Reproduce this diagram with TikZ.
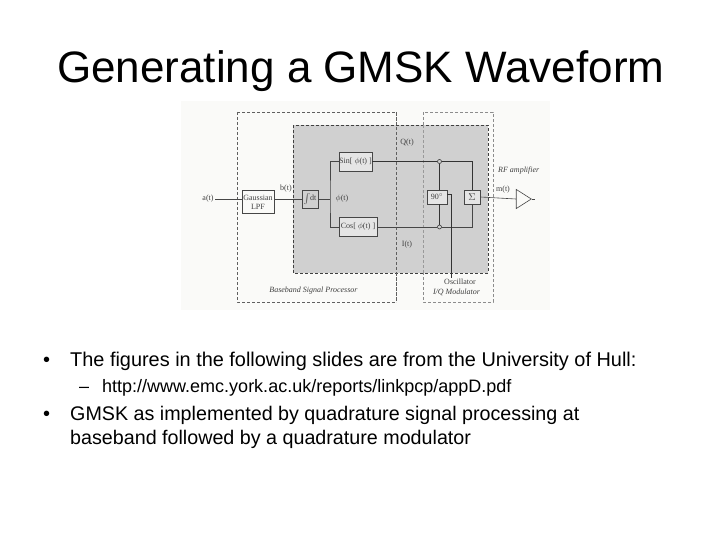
\documentclass[tikz,border=0pt]{standalone}
\usepackage{fontspec}
\setmainfont{Liberation Sans}
\newfontfamily\serifdiag{Liberation Serif}
\usetikzlibrary{shapes.geometric}
\definecolor{panelgrey}{RGB}{208,208,208}
\definecolor{linegrey}{RGB}{70,70,70}
\definecolor{dashgrey}{RGB}{95,95,95}
\definecolor{paper}{RGB}{250,250,248}
\tikzset{
  x=1pt,y=-1pt,
  slidetext/.style={anchor=base west,inner sep=0pt,text=black},
  outerdash/.style={draw=dashgrey,densely dashed,line width=.6pt},
  blockbox/.style={draw=linegrey,line width=.8pt,inner sep=0pt,font=\serifdiag\fontsize{8}{9}\selectfont,text=black!75},
  wire/.style={draw=linegrey,line width=.6pt},
  thickwire/.style={draw=black!80,line width=.9pt},
  siglabel/.style={inner sep=0pt,font=\serifdiag\fontsize{8}{9}\selectfont,text=black!75},
  mixer/.style={circle,draw=black!80,line width=.6pt,inner sep=0pt,minimum size=4pt},
}
\begin{document}
\begin{tikzpicture}
\useasboundingbox (0,0) rectangle (720,540);
\fill[white] (0,0) rectangle (720,540);
\fill[paper] (181,101) rectangle (550,310);
% panels
\draw[outerdash] (237,112) rectangle (396,302);
\draw[outerdash,draw=black!45] (423,112) rectangle (493,302);
\fill[panelgrey] (293,125) rectangle (488,273);
\draw[draw=black!75,densely dashed,line width=.7pt] (293,125) rectangle (488,273);
\draw[outerdash] (396,112) -- (396,302);
\draw[densely dashed,draw=black!40,line width=.5pt] (423,125) -- (423,273);
% blocks
\node[blockbox,fill=paper,minimum width=32pt,minimum height=23pt,align=center] (lpf) at (258,202) {Gaussian\\LPF};
\node[blockbox,minimum width=16pt,minimum height=18pt] (int) at (310,199) {$\int$dt};
\node[blockbox,minimum width=33pt,minimum height=19pt,fill=black!10] (sin) at (355.5,161.5) {Sin[ $\phi$(t) ]};
\node[blockbox,minimum width=38pt,minimum height=19pt,fill=black!10] (cos) at (358,227) {Cos[ $\phi$(t) ]};
\node[blockbox,minimum width=20pt,minimum height=14pt,fill=black!10] (ninety) at (437,197) {90$^\circ$};
\node[blockbox,minimum width=16pt,minimum height=14pt,fill=black!10,font=\serifdiag\fontsize{10}{10}\selectfont] (sum) at (472,197) {$\Sigma$};
\node[isosceles triangle,isosceles triangle apex angle=65,draw=linegrey,line width=.6pt,fill=paper,inner sep=0pt,minimum width=18pt,minimum height=15pt,anchor=center] (amp) at (521.5,199) {};
% helper points
\node[mixer] (mq) at (439.5,161.5) {};
\node[mixer] (mi) at (439.5,227) {};
\coordinate (split) at (330,199);
\coordinate (ain) at (215,199);
\coordinate (out) at (535,199);
\coordinate (osc) at (451.5,278);
\coordinate (oscb) at (451.5,194);
% wires
\draw[wire] (ain) -- (lpf.west |- ain);
\draw[wire] (lpf.east |- int.west) -- (int.west);
\draw[wire] (int.east) -- (split);
\draw[wire] (sin.west) -| (split) |- (cos.west);
\draw[thickwire] (sin.east) -- (mq);
\draw[wire] (cos.east) -- (mi);
\draw[thickwire] (mq) -- (mq |- ninety.north);
\draw[thickwire] (mi) -- (mi |- ninety.south);
\draw[thickwire,line width=.7pt] (mq) -| (sum.north);
\draw[wire] (mi) -| (sum.south);
\draw[wire] (sum.east) -- (amp.west);
\draw[wire] (amp.east) -- (out);
\draw[thickwire] (ninety.east |- oscb) -- (oscb) -- (osc);
% diagram labels
\node[siglabel] (la) at (208,199) {a(t)};
\node[siglabel] (lb) at (286,189) {b(t)};
\node[siglabel] (lphi) at (342,199) {$\phi$(t)};
\node[siglabel] (lq) at (407,143) {Q(t)};
\node[siglabel] (li) at (407,245) {I(t)};
\node[siglabel] (lm) at (503,190) {m(t)};
\node[siglabel,anchor=west] (lrf) at (498,171) {\itshape RF amplifier};
\node[siglabel] (losc) at (460,282) {Oscillator};
\node[siglabel] (liq) at (456.5,292) {\itshape I/Q Modulator};
\node[siglabel] (lbb) at (313.5,291) {\itshape Baseband Signal Processor};
% slide text
\node[slidetext,font=\fontsize{44}{50}\selectfont] (title) at (57,83) {Generating a GMSK Waveform};
\node[slidetext,font=\fontsize{20}{24}\selectfont] (b1) at (43,366.5) {•};
\node[slidetext,font=\fontsize{19.9}{24}\selectfont] (t1) at (70,366.5) {The figures in the following slides are from the University of Hull:};
\node[slidetext,font=\fontsize{18}{22}\selectfont] (b2) at (79,392.5) {–};
\node[slidetext,font=\fontsize{18}{22}\selectfont] (t2) at (102,392.5) {http://www.emc.york.ac.uk/reports/linkpcp/appD.pdf};
\node[slidetext,font=\fontsize{20}{24}\selectfont] (b3) at (43,420) {•};
\node[slidetext,font=\fontsize{19.7}{24}\selectfont] (t3) at (70,420) {GMSK as implemented by quadrature signal processing at};
\node[slidetext,font=\fontsize{19.7}{24}\selectfont] (t4) at (70,444) {baseband followed by a quadrature modulator};
\end{tikzpicture}
\end{document}
